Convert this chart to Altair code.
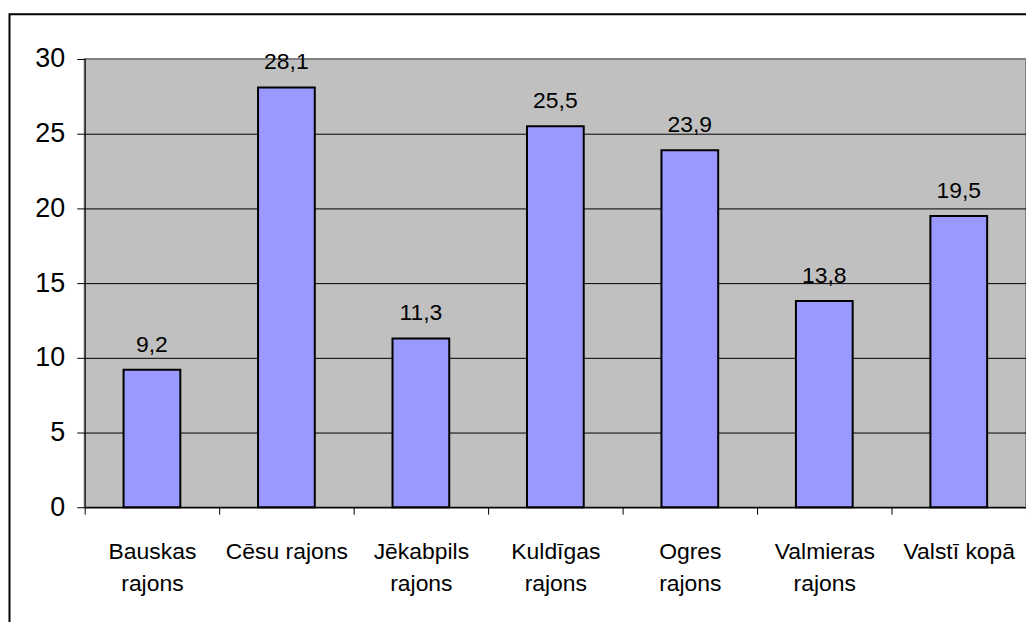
import altair as alt
import pandas as pd

categories = ["Bauskas rajons", "Cēsu rajons", "Jēkabpils rajons", "Kuldīgas rajons",
              "Ogres rajons", "Valmieras rajons", "Valstī kopā"]
values = [9.2, 28.1, 11.3, 25.5, 23.9, 13.8, 19.5]
labels = ["9,2", "28,1", "11,3", "25,5", "23,9", "13,8", "19,5"]
y_ticks = [0, 5, 10, 15, 20, 25, 30]

df = pd.DataFrame({"cat": categories, "val": values, "lab": labels})

W, H = 945, 450
NARROW = "Liberation Sans Narrow, Arial Narrow, Liberation Sans"
REG = "Liberation Sans, Arial"

x = alt.X("cat:N", sort=categories, title=None,
          scale=alt.Scale(paddingInner=0, paddingOuter=0),
          axis=alt.Axis(labelAngle=0, labelFont=NARROW, labelFontSize=23, labelColor="black",
                        labelExpr="length(datum.label) > 11 ? split(datum.label, ' ') : datum.label",
                        labelLineHeight=33, labelPadding=26, labelBaseline="top",
                        tickBand="extent", ticks=True, tickSize=7, tickColor="black",
                        domainColor="black", domainWidth=1, grid=False))
y = alt.Y("val:Q", title=None,
          scale=alt.Scale(domain=[0, 30], nice=False),
          axis=alt.Axis(values=y_ticks, labelFont=REG, labelFontSize=27, labelColor="black",
                        labelPadding=12, tickSize=8, tickColor="black", domainColor="black",
                        grid=True,
                        gridColor={"condition": {"test": "datum.value === 30", "value": "#808080"},
                                   "value": "black"},
                        gridWidth=1, gridOpacity=1))

bars = alt.Chart(df).mark_bar(color="#9999FF", stroke="black", strokeWidth=2,
                              width=alt.RelativeBandSize(0.422)).encode(x=x, y=y)
text = alt.Chart(df).mark_text(font=NARROW, fontSize=23, color="black", baseline="alphabetic",
                               dy=-18).encode(x=alt.X("cat:N", sort=categories), y="val:Q", text="lab:N")

border = alt.Chart(pd.DataFrame({"k": [0]})).mark_rect(fill=None, stroke="black", strokeWidth=2).encode(
    x=alt.value(-75.5), x2=alt.value(W + 40), y=alt.value(-45), y2=alt.value(H + 200))

chart = alt.layer(border, bars, text).properties(
    width=W, height=H,
    autosize=alt.AutoSizeParams(type="none"),
    padding={"left": 77, "top": 50, "right": 0, "bottom": 114},
).configure_view(fill="#C0C0C0", stroke="#808080", strokeWidth=2)

chart.save("out.html", embed_options={"renderer": "svg", "actions": False})
